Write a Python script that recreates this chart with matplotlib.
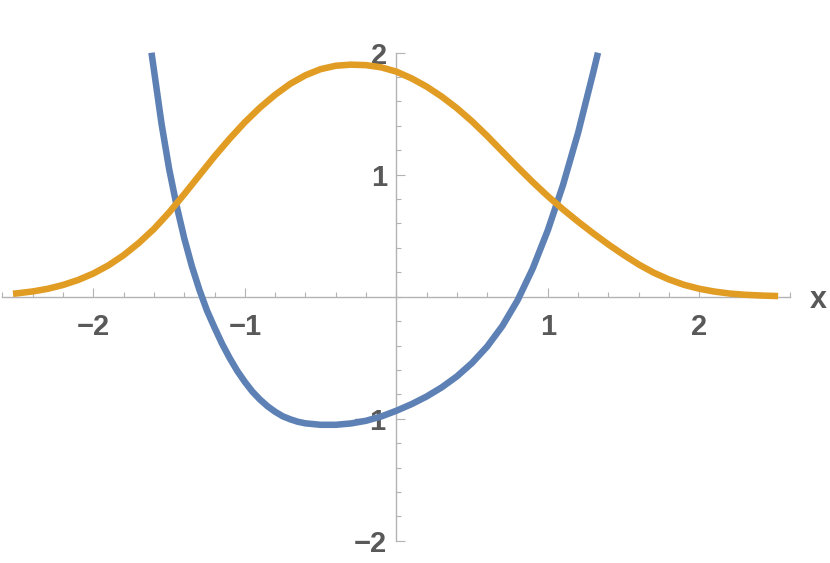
# encoding: utf-8

"""
Two curves drawn Mathematica style: axes through the origin, gray ticks.
"""

import matplotlib
matplotlib.use("Agg")
import matplotlib.pyplot as plt
from matplotlib.ticker import FixedLocator, MultipleLocator, FuncFormatter

# values
blue_x = [-1.616, -1.60, -1.55, -1.50, -1.45, -1.40, -1.35, -1.30, -1.25,
          -1.20, -1.15, -1.10, -1.05, -1.00, -0.95, -0.90, -0.85, -0.80,
          -0.75, -0.70, -0.65, -0.60, -0.50, -0.40, -0.30, -0.20, -0.10,
          0.00, 0.10, 0.20, 0.30, 0.40, 0.50, 0.60, 0.70, 0.80, 0.90,
          1.00, 1.10, 1.20, 1.30, 1.331]
blue_y = [2.0, 1.86, 1.42, 1.05, 0.745, 0.48, 0.252, 0.057, -0.113,
          -0.253, -0.386, -0.503, -0.608, -0.698, -0.778, -0.843, -0.898, -0.943,
          -0.98, -1.005, -1.025, -1.038, -1.05, -1.05, -1.039, -1.017, -0.982,
          -0.935, -0.881, -0.818, -0.743, -0.653, -0.543, -0.408, -0.24, -0.03, 0.23,
          0.545, 0.915, 1.345, 1.84, 2.0]

orange_x = [-2.53, -2.5, -2.4, -2.3, -2.2, -2.1, -2.0, -1.9, -1.8, -1.7,
            -1.6, -1.5, -1.4, -1.3, -1.2, -1.1, -1.0, -0.9, -0.8, -0.7,
            -0.6, -0.5, -0.4, -0.3, -0.2, -0.1, 0.0, 0.1, 0.2, 0.3,
            0.4, 0.5, 0.6, 0.7, 0.8, 0.9, 1.0, 1.1, 1.2, 1.3,
            1.4, 1.5, 1.6, 1.7, 1.8, 1.9, 2.0, 2.1, 2.2, 2.3,
            2.4, 2.5, 2.52]
orange_y = [0.024, 0.028, 0.043, 0.065, 0.096, 0.137, 0.19, 0.257, 0.34, 0.44,
            0.555, 0.69, 0.84, 0.995, 1.15, 1.295, 1.43, 1.55, 1.655, 1.745,
            1.815, 1.865, 1.893, 1.902, 1.898, 1.88, 1.845, 1.79, 1.722, 1.64,
            1.545, 1.437, 1.317, 1.19, 1.063, 0.94, 0.824, 0.716, 0.615, 0.519,
            0.428, 0.343, 0.264, 0.196, 0.141, 0.097, 0.065, 0.042, 0.026, 0.016,
            0.010, 0.006, 0.005]

x_ticks = [-2, -1, 1, 2]
y_ticks = [-2, -1, 1, 2]

BLUE = "#5e81b5"
ORANGE = "#e19c24"
AXIS_GRAY = "#b3b3b3"
TEXT_GRAY = "#595959"


def tick_text(v, pos):
    """
    Integer label with a real minus sign
    """
    return "%d" % v if v >= 0 else "\u2212%d" % -v


plt.rcParams["font.family"] = ["Liberation Sans", "DejaVu Sans"]

fig = plt.figure(figsize=(8.3, 5.63), dpi=100)
ax = fig.add_axes([0.0029, 0.0396, 0.9492, 0.8668])

ax.plot(blue_x, blue_y, color=BLUE, lw=4.7, solid_capstyle="butt",
        solid_joinstyle="round", clip_on=False, zorder=3)
ax.plot(orange_x, orange_y, color=ORANGE, lw=4.7, solid_capstyle="butt",
        solid_joinstyle="round", clip_on=False, zorder=4)

ax.set_xlim(-2.6, 2.6)
ax.set_ylim(-2, 2)

# axes through the origin
for side in ["top", "right"]:
    ax.spines[side].set_visible(False)
for side in ["left", "bottom"]:
    ax.spines[side].set_position(("data", 0))
    ax.spines[side].set_color(AXIS_GRAY)
    ax.spines[side].set_linewidth(1.0)

ax.xaxis.set_major_locator(FixedLocator(x_ticks))
ax.yaxis.set_major_locator(FixedLocator(y_ticks))
ax.xaxis.set_minor_locator(MultipleLocator(0.2))
ax.yaxis.set_minor_locator(MultipleLocator(0.2))
ax.xaxis.set_major_formatter(FuncFormatter(tick_text))
ax.yaxis.set_major_formatter(FuncFormatter(tick_text))

ax.tick_params(which="both", direction="in", color=AXIS_GRAY, width=0.8)
ax.tick_params(which="major", length=6.5, labelsize=21, labelcolor=TEXT_GRAY)
ax.tick_params(which="minor", length=3.8)
ax.tick_params(axis="x", which="major", pad=11.5)
ax.tick_params(axis="y", which="major", pad=6.5)
for lab in ax.get_xticklabels() + ax.get_yticklabels():
    lab.set_fontweight("bold")

ax.text(2.787, -0.095, "x", ha="center", va="baseline", fontsize=22,
        fontweight="bold", color=TEXT_GRAY, clip_on=False)

plt.savefig("out.png", dpi=100)
